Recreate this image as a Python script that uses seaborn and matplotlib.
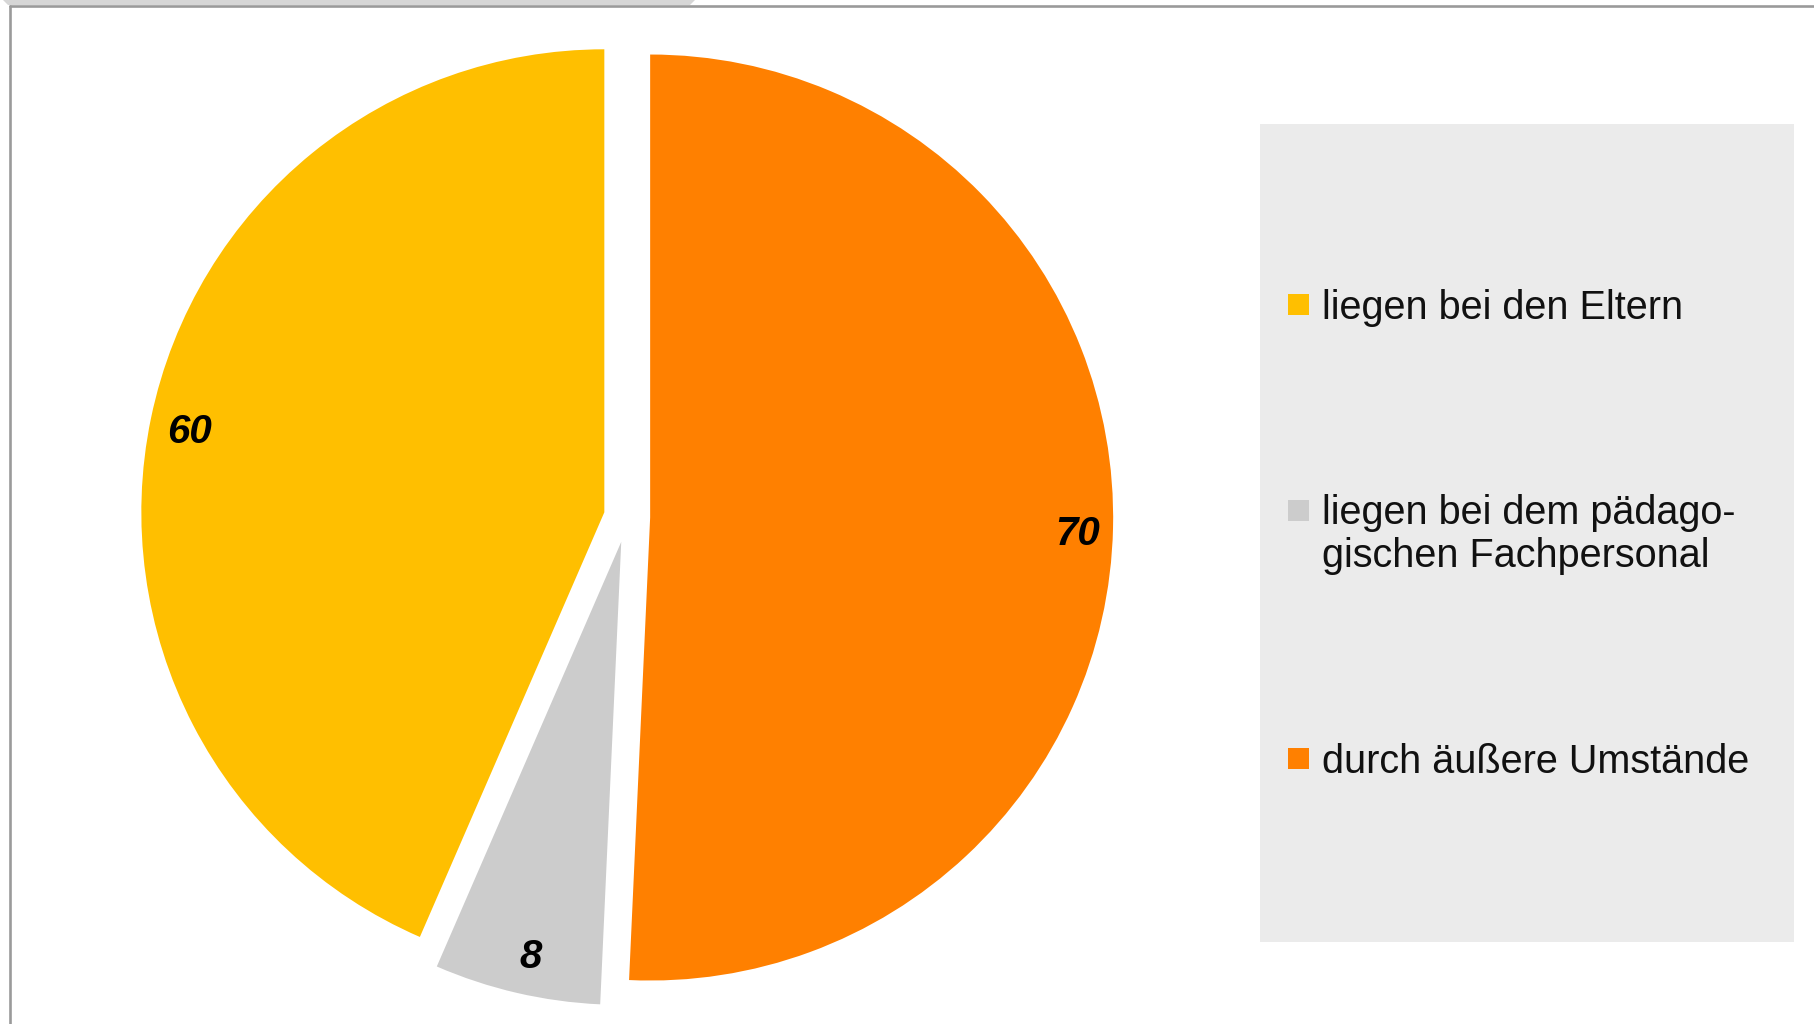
import matplotlib
matplotlib.use("Agg")
import matplotlib.pyplot as plt
import seaborn as sns
from matplotlib.patches import Rectangle, Polygon
from matplotlib.lines import Line2D

sns.set_theme(style="white")
plt.rcParams['font.family'] = ['Liberation Sans', 'DejaVu Sans']

categories = ["liegen bei den Eltern",
              "liegen bei dem pädago-\ngischen Fachpersonal",
              "durch äußere Umstände"]
values = [60, 8, 70]
colors = ["#FFBF00", "#CCCCCC", "#FF8000"]
explode = [0.05, 0.055, 0.05]

W, H = 1814, 1024
DPI = 100
fig = plt.figure(figsize=(W / DPI, H / DPI), dpi=DPI)
fig.patch.set_facecolor("white")

# pie axes: centre (627, 517) px from top, radius 463 px
cx, cy, R = 627, 517, 463
lim = 1.2
side = 2 * lim * R
ax = fig.add_axes([(cx - side / 2) / W, (H - cy - side / 2) / H, side / W, side / H])
total = sum(values)
wedges, texts, autotexts = ax.pie(
    values, colors=colors, explode=explode, startangle=90, counterclock=True,
    autopct=lambda p: f"{round(p * total / 100)}", pctdistance=0.915,
    wedgeprops=dict(linewidth=0),
    textprops=dict(fontsize=29, fontweight="bold", fontstyle="italic", color="black"))
label_nudges = [(0.0, -0.012), (0.01, -0.005), (0.009, -0.014)]
for t, (dx, dy) in zip(autotexts, label_nudges):
    x, y = t.get_position()
    t.set_position((x + dx, y + dy))
ax.set_xlim(-lim, lim)
ax.set_ylim(-lim, lim)
ax.set_aspect("auto")
ax.axis("off")

# legend background box
fig.add_artist(Rectangle((1260 / W, 1 - 942 / H), (1794 - 1260) / W, (942 - 124) / H,
                         transform=fig.transFigure, facecolor="#EBEBEB", edgecolor="none", zorder=0))

fs = 28.5
leg = fig.legend(wedges, categories, loc="upper left",
                 bbox_to_anchor=(1288 / W, 1 - 289 / H),
                 frameon=False, fontsize=fs, borderpad=0, borderaxespad=0,
                 handlelength=0.53, handleheight=0.44, handletextpad=0.33,
                 labelspacing=4.23)
for t in leg.get_texts():
    t.set_linespacing(1.16)
    t.set_color("#111111")

# frame lines of the screenshot
fig.add_artist(Line2D([9.5 / W, 9.5 / W], [0, 1 - 6 / H], transform=fig.transFigure,
                      color="#9A9A9A", linewidth=1.9))
fig.add_artist(Line2D([9.5 / W, 1], [1 - 6 / H, 1 - 6 / H], transform=fig.transFigure,
                      color="#9A9A9A", linewidth=1.9))
fig.add_artist(Polygon([(3 / W, 1), (695 / W, 1), (690 / W, 1 - 5 / H), (8 / W, 1 - 5 / H)],
                       closed=True, transform=fig.transFigure, facecolor="#D6D6D6",
                       edgecolor="none"))

fig.canvas.draw()
# align multi-line entry handle with its first line
h = leg.legend_handles[1]
h.set_y(h.get_y() + 18)

fig.savefig("out.png", dpi=DPI, facecolor="white")
